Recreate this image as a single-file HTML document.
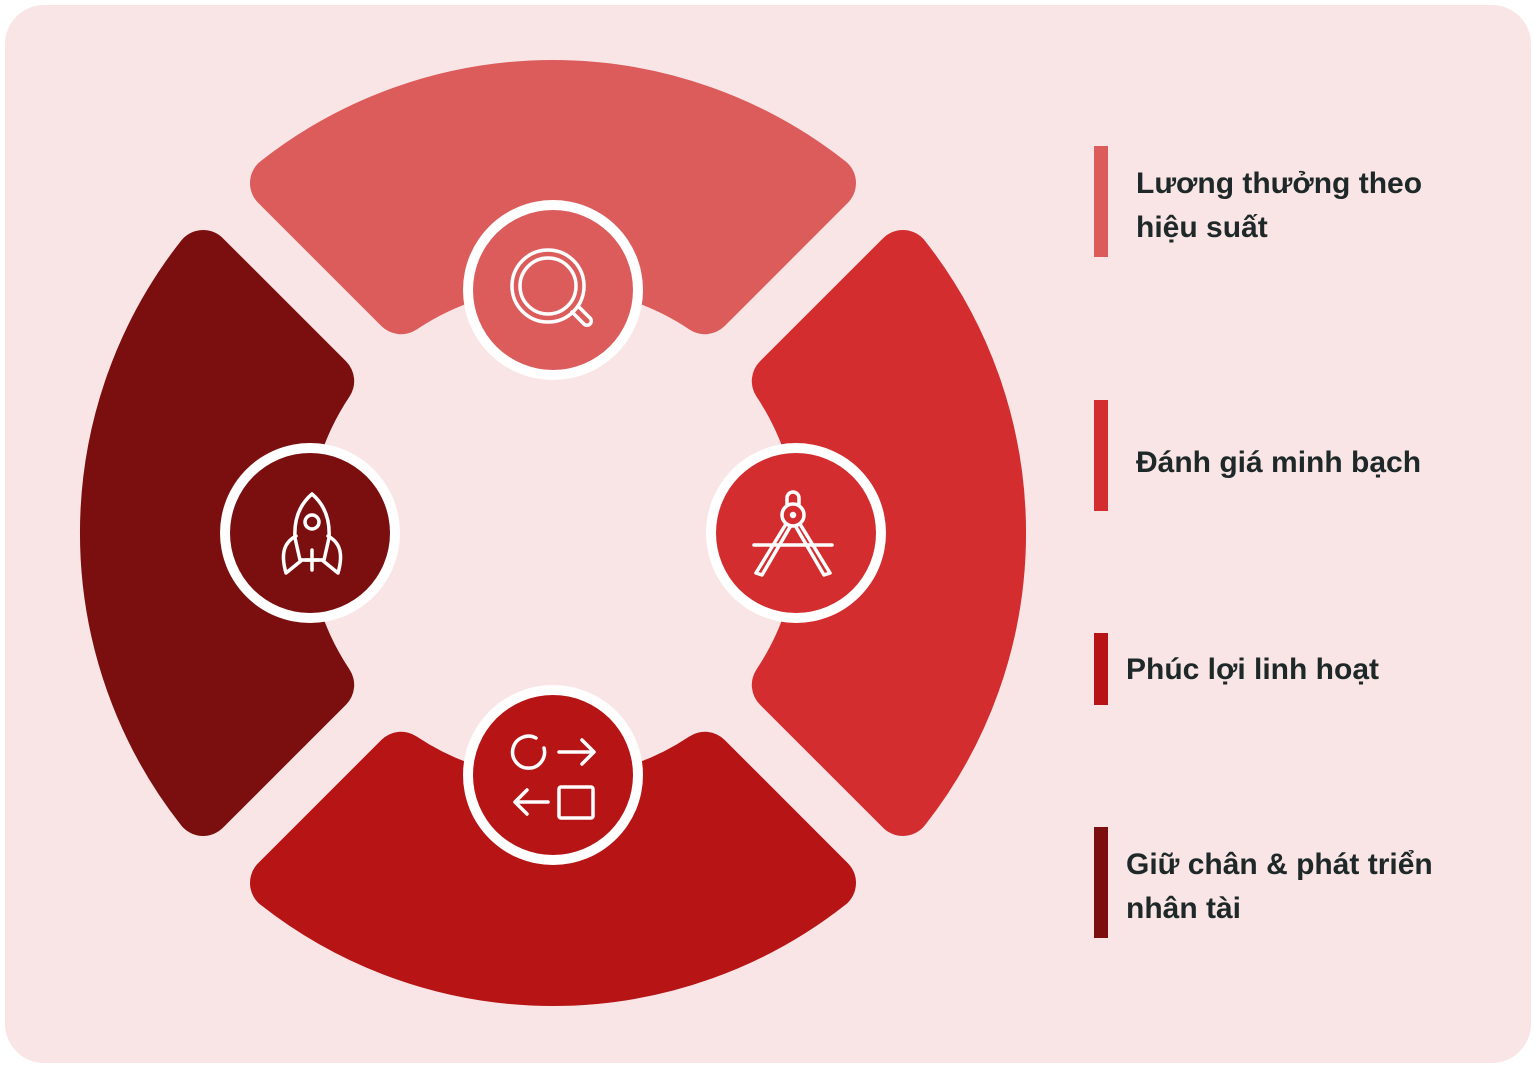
<!DOCTYPE html>
<html><head><meta charset="utf-8"><style>
html,body{margin:0;padding:0;background:#fff;}
body{width:1536px;height:1068px;overflow:hidden;}
</style></head><body>
<svg width="1536" height="1068" viewBox="0 0 1536 1068" xmlns="http://www.w3.org/2000/svg">
<rect x="4" y="4" width="1528" height="1060" rx="40" fill="#F9E5E5" stroke="#fff" stroke-width="2"/>
<defs>
<path id="seg" d="M278,183.1 A445,445 0 0 1 828,183.1 L704.9,306.2 A273,273 0 0 0 401.1,306.2 Z" stroke-width="56" stroke-linejoin="round"/>
</defs>
<use href="#seg" fill="#DC5C5C" stroke="#DC5C5C"/>
<use href="#seg" fill="#D32D2F" stroke="#D32D2F" transform="rotate(90 553 533)"/>
<use href="#seg" fill="#B71416" stroke="#B71416" transform="rotate(180 553 533)"/>
<use href="#seg" fill="#7B0F0F" stroke="#7B0F0F" transform="rotate(270 553 533)"/>

<circle cx="553" cy="290" r="90" fill="#fff"/><circle cx="553" cy="290" r="80" fill="#DC5C5C"/>
<circle cx="796" cy="533" r="90" fill="#fff"/><circle cx="796" cy="533" r="80" fill="#D32D2F"/>
<circle cx="553" cy="775" r="90" fill="#fff"/><circle cx="553" cy="775" r="80" fill="#B71416"/>
<circle cx="310" cy="533" r="90" fill="#fff"/><circle cx="310" cy="533" r="80" fill="#7B0F0F"/>

<g fill="none" stroke="#fff" stroke-width="3.5" stroke-linecap="round" stroke-linejoin="round">
<circle cx="548" cy="286" r="36"/><circle cx="548" cy="286" r="28"/>
<path d="M572,312 L584,324 a4,4 0 0 0 6,-6 L578,306"/>
<circle cx="793" cy="515" r="11"/><path d="M787,504 v-6 a6,6 0 0 1 12,0 v6"/>
<path d="M786,524 L756,573 L762,575 L790,527"/><path d="M800,524 L830,573 L824,575 L796,527"/>
<path d="M754,545 H832"/>
<circle cx="793" cy="515" r="1.5" fill="#fff"/>
<path d="M312,494 C298,506 294,522 295,538 L300,560 L324,560 L329,538 C330,522 326,506 312,494 Z"/>
<circle cx="312" cy="522" r="7"/>
<path d="M296,536 C285,542 280,552 286,573 L302,560"/>
<path d="M328,536 C339,542 344,552 338,573 L322,560"/>
<path d="M312,550 V570 M305,560 H319"/>
<path d="M544,748 A16,16 0 1 1 536,738"/>
<path d="M559,752 H593 M582,740 L594,752 L582,764"/>
<path d="M548,802 H515 M527,790 L515,802 L527,814"/>
<rect x="559" y="787" width="34" height="31" rx="2"/>
</g>

<g font-family="Liberation Sans, sans-serif" font-weight="bold" font-size="30" fill="#1f2828">
<rect x="1094" y="146" width="14" height="111" fill="#DC5C5C"/>
<text x="1136" y="193">Lương thưởng theo</text>
<text x="1136" y="237">hiệu suất</text>
<rect x="1094" y="400" width="14" height="111" fill="#D32D2F"/>
<text x="1136" y="472">Đánh giá minh bạch</text>
<rect x="1094" y="633" width="14" height="72" fill="#B71416"/>
<text x="1126" y="679">Phúc lợi linh hoạt</text>
<rect x="1094" y="827" width="14" height="111" fill="#7B0F0F"/>
<text x="1126" y="874">Giữ chân &amp; phát triển</text>
<text x="1126" y="918">nhân tài</text>
</g>
</svg>
</body></html>
